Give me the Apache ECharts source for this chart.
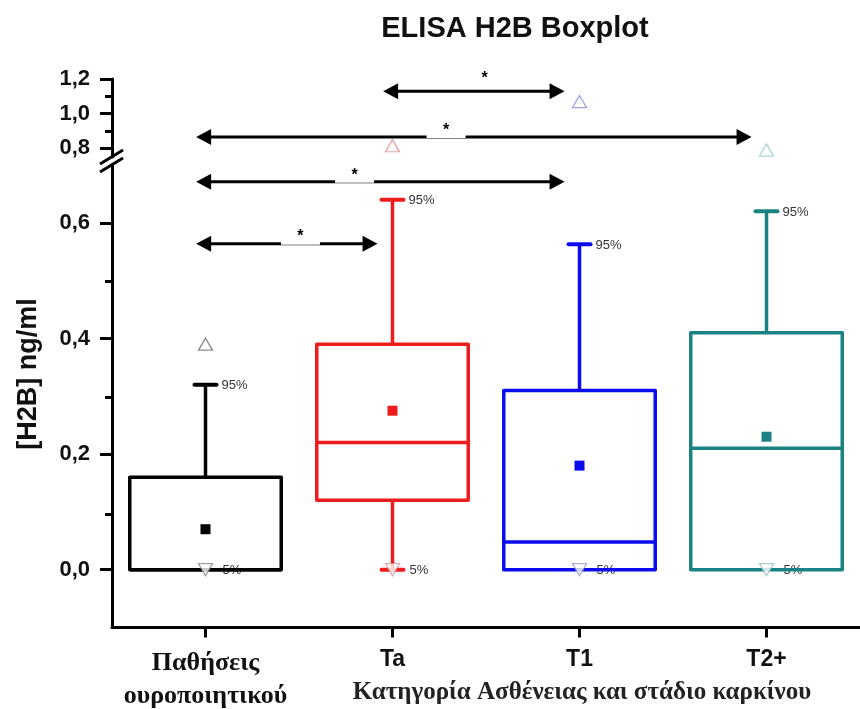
<!DOCTYPE html>
<html>
<head>
<meta charset="utf-8">
<script src="https://cdn.jsdelivr.net/npm/echarts@6/dist/echarts.min.js"></script>
<style>html,body{margin:0;padding:0;background:#fff;}#c{width:860px;height:709px;}</style>
</head>
<body>
<div id="c"></div>
<script>
// ---- data ----
const categories = ['Παθήσεις\nουροποιητικού', 'Ta', 'T1', 'T2+'];
const p5 = [0, 0, 0, 0];
const q1 = [0, 0.12, 0, 0];
const medians = [0, 0.22, 0.048, 0.21];
const q3 = [0.16, 0.39, 0.31, 0.41];
const p95 = [0.32, 0.64, 0.563, 0.62];
const means = [0.07, 0.275, 0.18, 0.23];
const maxima = [0.39, 0.815, 1.07, 0.79];
const minima = [0, 0, 0, 0];
const sigPairs = [[1, 2], [0, 3], [0, 2], [0, 1]];
const sigLevels = [1.13, 0.865, 0.671, 0.564];
const yTicksLower = [0, 0.2, 0.4, 0.6];
const yMinorLower = [0.1, 0.3, 0.5];
const yTicksUpper = [0.8, 1.0, 1.2];
const yMinorUpper = [0.9, 1.1];
const breakAt = 0.75; // upper segment starts here
const lowerMax = 0.7;

// ---- styles ----
const colors = ['#000000', '#ee1c1c', '#0b0bef', '#1a8282'];
const upTriColors = ['#6f6f6f', '#e08c8c', '#8a8ad6', '#9cc9c9'];
const downTriColors = ['#8a8a8a', '#d09a9a', '#9a9ac8', '#98c2c2'];
const starFrac = [0.56, 0.45, 0.43, 0.575];
const starRise = [18, 11, 11, 12];
const gapW = [0, 39, 39, 39];
const SANS = 'Liberation Sans, Arial, sans-serif';
const SERIF = 'Liberation Serif, Times New Roman, serif';
const fmt = v => v.toFixed(1).replace('.', ',');

const chart = echarts.init(document.getElementById('c'), null, {renderer: 'canvas'});

const gridUpper = {left: 112, right: -7, top: 79, height: 78};
const gridLower = {left: 112, right: -7, top: 165, bottom: 79};

function yAxisMain(gi, min, max, ticks) {
  return {
    type: 'value', gridIndex: gi, min: min, max: max, position: 'left',
    axisLine: {show: true, lineStyle: {color: '#000', width: 3}},
    axisTick: {show: true, customValues: ticks, length: 12, lineStyle: {color: '#000', width: 3}},
    axisLabel: {show: true, customValues: ticks, formatter: fmt, margin: 22,
      fontFamily: SANS, fontWeight: 'bold', fontSize: 22, color: '#111'},
    splitLine: {show: false}
  };
}
function yAxisMinor(gi, min, max, ticks) {
  return {
    type: 'value', gridIndex: gi, min: min, max: max, position: 'left',
    axisLine: {show: false},
    axisTick: {show: true, customValues: ticks, length: 7, lineStyle: {color: '#000', width: 3}},
    axisLabel: {show: false},
    splitLine: {show: false}
  };
}
function xHidden(gi) {
  return {type: 'value', gridIndex: gi, min: 0.5, max: 4.5, show: false};
}

// box data
const boxData = categories.map((c, i) => [i + 1, p5[i], q1[i], medians[i], q3[i], p95[i], means[i]]);

function renderBox(params, api) {
  const xv = api.value(0);
  const i = xv - 1;
  const col = colors[i];
  const cx = api.coord([xv, 0])[0];
  const Y = v => api.coord([xv, v])[1];
  const half = api.size([0.81, 0])[0] / 2;
  const capHalf = 11;
  const vP5 = api.value(1), vQ1 = api.value(2), vMed = api.value(3), vQ3 = api.value(4), vP95 = api.value(5), vMean = api.value(6);
  const ls = {stroke: col, lineWidth: 3.5, fill: null, lineJoin: 'round', lineCap: 'butt'};
  const children = [];
  children.push({type: 'text', z2: 1, style: {text: '95%', x: cx + capHalf + 5, y: Y(vP95) + 1,
    fill: '#333', font: '13px ' + SANS, verticalAlign: 'middle', align: 'left'}});
  children.push({type: 'text', z2: 1, style: {text: '5%', x: cx + 17, y: Y(vP5) + 1,
    fill: '#333', font: '13px ' + SANS, verticalAlign: 'middle', align: 'left'}});
  children.push({type: 'line', z2: 2, shape: {x1: cx, y1: Y(vQ3), x2: cx, y2: Y(vP95)}, style: ls});
  children.push({type: 'line', z2: 2, shape: {x1: cx - capHalf, y1: Y(vP95), x2: cx + capHalf, y2: Y(vP95)},
    style: {stroke: col, lineWidth: 4, lineCap: 'round'}});
  if (vQ1 > vP5) {
    children.push({type: 'line', z2: 2, shape: {x1: cx, y1: Y(vQ1), x2: cx, y2: Y(vP5)}, style: ls});
    children.push({type: 'line', z2: 2, shape: {x1: cx - capHalf, y1: Y(vP5), x2: cx + capHalf, y2: Y(vP5)},
      style: {stroke: col, lineWidth: 4, lineCap: 'round'}});
  }
  children.push({type: 'rect', z2: 3, shape: {x: cx - half, y: Y(vQ3), width: 2 * half, height: Y(vQ1) - Y(vQ3)}, style: ls});
  children.push({type: 'line', z2: 3, shape: {x1: cx - half, y1: Y(vMed), x2: cx + half, y2: Y(vMed)}, style: ls});
  children.push({type: 'rect', z2: 3, shape: {x: cx - 5, y: Y(vMean) - 5, width: 10, height: 10}, style: {fill: col}});
  return {type: 'group', children: children};
}

function renderArrow(params, api) {
  const idx = api.value(3);
  const from = api.value(0), to = api.value(1), lv = api.value(2);
  const p1 = api.coord([from + 1 - 0.05, lv]);
  const p2 = api.coord([to + 1 - 0.08, lv]);
  const y = p1[1];
  const hl = 15, hh = 8;
  const children = [
    {type: 'line', shape: {x1: p1[0] + hl - 2, y1: y, x2: p2[0] - hl + 2, y2: y}, style: {stroke: '#000', lineWidth: 3}},
    {type: 'polygon', shape: {points: [[p1[0], y], [p1[0] + hl, y - hh], [p1[0] + hl, y + hh]]}, style: {fill: '#000'}},
    {type: 'polygon', shape: {points: [[p2[0], y], [p2[0] - hl, y - hh], [p2[0] - hl, y + hh]]}, style: {fill: '#000'}}
  ];
  const sx = p1[0] + (p2[0] - p1[0]) * starFrac[idx];
  if (gapW[idx] > 0) {
    children.push({type: 'rect', shape: {x: sx - gapW[idx] / 2, y: y - 2.5, width: gapW[idx], height: 3.5}, style: {fill: '#fff'}});
  }
  children.push({type: 'text', style: {text: '*', x: sx, y: y - starRise[idx] + 5, align: 'center', verticalAlign: 'middle',
    font: 'bold 16px ' + SANS, fill: '#000'}});
  return {type: 'group', children: children};
}

const arrowsUpper = [], arrowsLower = [];
sigPairs.forEach((p, k) => {
  const item = [p[0], p[1], sigLevels[k], k];
  (sigLevels[k] >= breakAt ? arrowsUpper : arrowsLower).push(item);
});

const upTriUpper = [], upTriLower = [];
maxima.forEach((v, i) => {
  const item = {value: [i + 1, v], itemStyle: {color: '#fff', borderColor: upTriColors[i], borderWidth: 1.3}};
  (v >= breakAt ? upTriUpper : upTriLower).push(item);
});
const downTri = minima.map((v, i) => ({value: [i + 1, v], itemStyle: {color: '#fff', borderColor: downTriColors[i], borderWidth: 1.3}}));

const option = {
  backgroundColor: '#fff',
  animation: false,
  grid: [
    Object.assign({}, gridUpper),
    Object.assign({}, gridLower),
    Object.assign({}, gridUpper),
    Object.assign({}, gridLower)
  ],
  xAxis: [
    xHidden(0),
    {
      type: 'value', gridIndex: 1, min: 0.5, max: 4.5, position: 'bottom',
      axisLine: {show: true, onZero: false, lineStyle: {color: '#000', width: 3}},
      axisTick: {show: true, customValues: [1, 2, 3, 4], length: 10, lineStyle: {color: '#000', width: 3}},
      axisLabel: {
        show: true, customValues: [1, 2, 3, 4], margin: 19,
        formatter: v => {
          const i = Math.round(v) - 1;
          return i === 0 ? '{s|' + categories[0] + '}' : '{b|' + categories[i] + '}';
        },
        rich: {
          s: {fontFamily: SERIF, fontWeight: 'bold', fontSize: 26, color: '#111', lineHeight: 33},
          b: {fontFamily: SANS, fontWeight: 'bold', fontSize: 23, color: '#111', lineHeight: 26}
        }
      },
      splitLine: {show: false}
    },
    xHidden(2),
    xHidden(3)
  ],
  yAxis: [
    yAxisMain(0, breakAt, 1.2, yTicksUpper),
    yAxisMain(1, -0.1, lowerMax, yTicksLower),
    yAxisMinor(2, breakAt, 1.2, yMinorUpper),
    yAxisMinor(3, -0.1, lowerMax, yMinorLower)
  ],
  series: [
    {
      type: 'custom', name: 'box', xAxisIndex: 1, yAxisIndex: 1, z: 2,
      renderItem: renderBox, data: boxData,
      encode: {x: 0, y: [1, 2, 3, 4, 5, 6]}
    },
    {
      type: 'scatter', name: 'max-lower', xAxisIndex: 1, yAxisIndex: 1, z: 4,
      symbol: 'triangle', symbolSize: [14, 12], data: upTriLower
    },
    {
      type: 'scatter', name: 'max-upper', xAxisIndex: 0, yAxisIndex: 0, z: 4,
      symbol: 'triangle', symbolSize: [14, 12], data: upTriUpper
    },
    {
      type: 'scatter', name: 'min', xAxisIndex: 1, yAxisIndex: 1, z: 4,
      symbol: 'triangle', symbolRotate: 180, symbolSize: [14, 12], data: downTri
    },
    {
      type: 'custom', name: 'sig-upper', xAxisIndex: 0, yAxisIndex: 0, z: 5,
      renderItem: renderArrow, data: arrowsUpper, encode: {x: [0, 1], y: 2}
    },
    {
      type: 'custom', name: 'sig-lower', xAxisIndex: 1, yAxisIndex: 1, z: 5,
      renderItem: renderArrow, data: arrowsLower, encode: {x: [0, 1], y: 2}
    }
  ],
  graphic: [
    {type: 'text', id: 'title', x: 515, y: 29, z: 10,
      style: {text: 'ELISA H2B Boxplot', font: 'bold 29px ' + SANS, fill: '#111', align: 'center', verticalAlign: 'middle'}},
    {type: 'text', id: 'xname', x: 582, y: 693, z: 10,
      style: {text: 'Κατηγορία Ασθένειας και στάδιο καρκίνου', font: 'bold 25px ' + SERIF, fill: '#222', align: 'center', verticalAlign: 'middle'}},
    {type: 'text', id: 'yname', x: 29, y: 374, rotation: Math.PI / 2, z: 10,
      style: {text: '[H2B] ng/ml', font: 'bold 27px ' + SANS, fill: '#111', align: 'center', verticalAlign: 'middle'}}
  ]
};
chart.setOption(option);

// axis break marks, positioned from the axes themselves
const ax = chart.convertToPixel({xAxisIndex: 1}, 0.5);
const yTopEnd = chart.convertToPixel({yAxisIndex: 0}, breakAt);
const yLowStart = chart.convertToPixel({yAxisIndex: 1}, lowerMax);
chart.setOption({
  graphic: [
    {type: 'line', id: 'brk1', z: 20, shape: {x1: ax - 12, y1: yTopEnd + 7, x2: ax + 11, y2: yTopEnd - 7}, style: {stroke: '#000', lineWidth: 3}},
    {type: 'line', id: 'brk2', z: 20, shape: {x1: ax - 12, y1: yLowStart + 7, x2: ax + 11, y2: yLowStart - 7}, style: {stroke: '#000', lineWidth: 3}}
  ]
});
</script>
</body>
</html>
